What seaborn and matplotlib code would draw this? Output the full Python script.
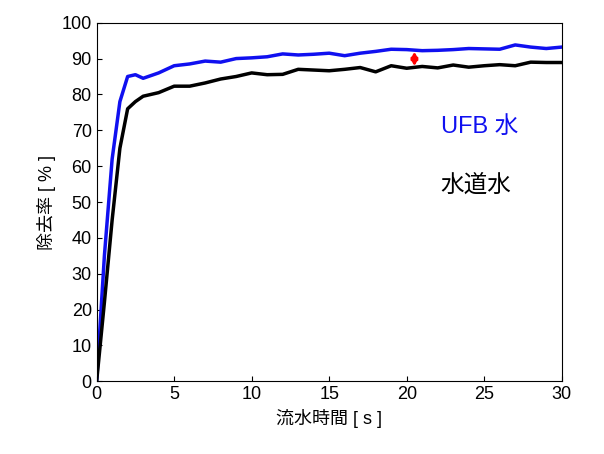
import matplotlib.pyplot as plt
import seaborn as sns
import pandas as pd

t_ufb = [0, 0.5, 1, 1.5, 2, 2.5, 3, 4, 5, 6, 7, 8, 9, 10, 11, 12, 13, 14, 15, 16, 17, 18, 19, 20, 21, 22, 23, 24, 25, 26, 27, 28, 29, 30]
ufb = [0, 35, 62, 78, 85, 85.5, 84.5, 86, 88, 88.5, 89.3, 89, 90, 90.2, 90.5, 91.3, 91, 91.2, 91.5, 90.8, 91.5, 92, 92.6, 92.5, 92.2, 92.3, 92.5, 92.8, 92.7, 92.6, 93.8, 93.2, 92.8, 93.2]
t_tap = [0, 0.5, 1, 1.5, 2, 2.5, 3, 4, 5, 6, 7, 8, 9, 10, 11, 12, 13, 14, 15, 16, 17, 18, 19, 20, 21, 22, 23, 24, 25, 26, 27, 28, 29, 30]
tap = [0, 22, 45, 65, 76, 78, 79.5, 80.5, 82.3, 82.3, 83.2, 84.3, 85, 86, 85.5, 85.6, 87, 86.8, 86.6, 87, 87.5, 86.3, 88, 87.3, 87.8, 87.4, 88.2, 87.6, 88, 88.3, 88, 89, 88.9, 88.9]

plt.rcParams['font.family'] = ['Liberation Sans', 'Noto Sans CJK JP']
fig, ax = plt.subplots(figsize=(6.04, 4.54), dpi=100)
sns.lineplot(data=pd.DataFrame({"t": t_ufb, "v": ufb}), x="t", y="v", color="#1010f0", lw=2.5, ax=ax)
sns.lineplot(data=pd.DataFrame({"t": t_tap, "v": tap}), x="t", y="v", color="black", lw=2.5, ax=ax)
ax.annotate("", xy=(20.5, 92.0), xytext=(20.5, 87.8),
            arrowprops=dict(arrowstyle="<|-|>", color="red", lw=2.2, mutation_scale=9,
                            shrinkA=0, shrinkB=0))
ax.text(22.2, 71, "UFB 水", color="#1010f0", fontsize=17, va="center")
ax.text(22.2, 54.5, "水道水", color="black", fontsize=17, va="center")
ax.set_xlim(0, 30)
ax.set_ylim(0, 100)
ax.set_xticks(range(0, 31, 5))
ax.set_yticks(range(0, 101, 10))
ax.tick_params(labelsize=13, direction="in")
ax.set_xlabel("流水時間 [ s ]", fontsize=13)
ax.set_ylabel("除去率 [ % ]", fontsize=13)
fig.subplots_adjust(left=0.16, right=0.93, top=0.95, bottom=0.16)
fig.savefig("out.png", dpi=100)
